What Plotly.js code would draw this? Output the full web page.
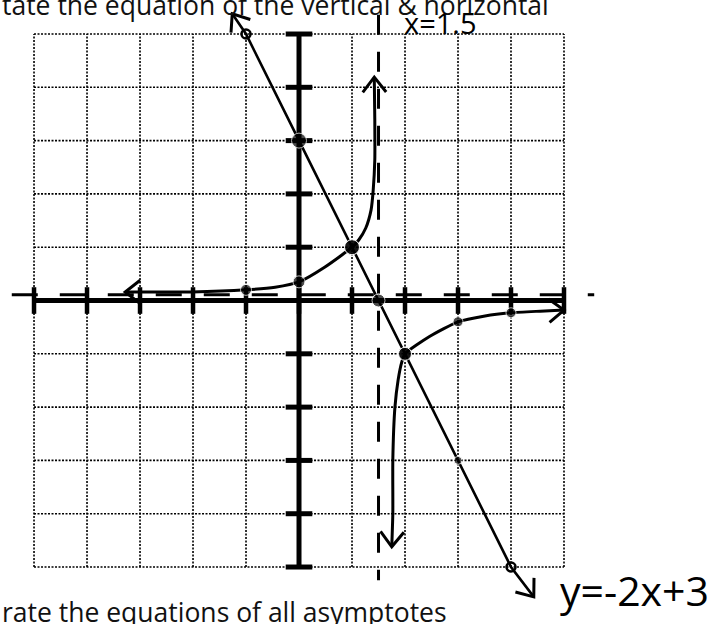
<!DOCTYPE html>
<html>
<head>
<meta charset="utf-8">
<script src="https://cdn.plot.ly/plotly-3.0.1.min.js"></script>
<style>html,body{margin:0;padding:0;background:#fff;overflow:hidden}</style>
</head>
<body>
<div id="chart" style="width:724px;height:624px"></div>
<script>
// Integer grid / tick positions on both axes
const gridTicks = [-5, -4, -3, -2, -1, 0, 1, 2, 3, 4, 5];

// Line y = -2x + 3 (open endpoints at x = -1 and x = 4, arrows beyond)
const lineX = [-1.26, -1, 0, 1, 1.5, 2, 3, 4, 4.43];
const lineY = [5.38, 5, 3, 1, 0, -1, -3, -5, -5.56];
const lineOpenX = [-1, 4];
const lineOpenY = [5, -5];
const lineDotX = [0, 1, 1.5, 2, 3];
const lineDotY = [3, 1, 0, -1, -3];

// Reciprocal graph: left branch (rising to the asymptote) and right branch
const leftX = [-3.28, -2.02, -1, -0.45, 0, 0.49, 1, 1.13, 1.26, 1.36, 1.40, 1.43, 1.43, 1.42];
const leftY = [0.16, 0.16, 0.2, 0.25, 0.35, 0.63, 1, 1.14, 1.36, 1.70, 2.07, 2.64, 3.39, 4.19];
const rightX = [1.75, 1.77, 1.77, 1.81, 1.87, 1.94, 2, 2.47, 3, 3.51, 4, 4.55, 5.0];
const rightY = [-4.62, -3.99, -2.99, -2.0, -1.49, -1.15, -1, -0.67, -0.4, -0.29, -0.23, -0.20, -0.18];
const curveDotX = [-1, 0, 1, 2, 3, 4];
const curveDotY = [0.2, 0.35, 1, -1, -0.4, -0.23];

// Asymptotes x = 1.5 and y = 0 (the hand-drawn dashes sit just above the axis)
const vAsymX = [1.5, 1.5];
const vAsymY = [5.36, -5.25];
const hAsymX = [-5.42, 5.57];
const hAsymY = [0.11, 0.11];

// Page geometry
const W = 724, H = 624;
const xRange = [-5.642, 8.019];
const yRange = [-6.069, 5.638];
const pxX = W / (xRange[1] - xRange[0]);
const pxY = H / (yRange[1] - yRange[0]);

// Arrowhead arms at a curve end, in data units, from the end point and its neighbour
function arrowArms(xs, ys, atEnd, len, ang) {
  const i = atEnd ? xs.length - 1 : 0;
  const j = atEnd ? xs.length - 2 : 1;
  const dx = (xs[i] - xs[j]) * pxX, dy = (ys[i] - ys[j]) * pxY;
  const n = Math.hypot(dx, dy);
  const bx = -dx / n, by = -dy / n;
  const arm = s => {
    const a = s * ang * Math.PI / 180;
    const rx = bx * Math.cos(a) - by * Math.sin(a);
    const ry = bx * Math.sin(a) + by * Math.cos(a);
    return [xs[i] + rx * len / pxX, ys[i] + ry * len / pxY];
  };
  const p1 = arm(1), p2 = arm(-1);
  return {x: [p1[0], xs[i], p2[0]], y: [p1[1], ys[i], p2[1]]};
}

// Dotted grid lines
const gx = [], gy = [];
const g0 = gridTicks[0], g1 = gridTicks[gridTicks.length - 1];
gridTicks.forEach(t => {
  gx.push(t, t, null, g0, g1, null);
  gy.push(g0, g1, null, t, t, null);
});

const black = '#000';
const traces = [];
traces.push({x: gx, y: gy, mode: 'lines', line: {color: black, width: 1.6, dash: '2px,1.5px'}, hoverinfo: 'skip'});
traces.push({x: hAsymX, y: hAsymY, mode: 'lines', line: {color: black, width: 3, dash: '26px,22px'}});
// Thick axes
traces.push({x: [g0, g1], y: [0, 0], mode: 'lines', line: {color: black, width: 5}});
traces.push({x: [0, 0], y: [g0, g1], mode: 'lines', line: {color: black, width: 5}});
// Tick marks
traces.push({x: gridTicks, y: gridTicks.map(() => 0), mode: 'markers',
  marker: {symbol: 'line-ns', size: 19, line: {color: black, width: 4.5}}});
traces.push({x: gridTicks.map(() => 0), y: gridTicks, mode: 'markers',
  marker: {symbol: 'line-ew', size: 19, line: {color: black, width: 5}}});
traces.push({x: vAsymX, y: vAsymY, mode: 'lines', line: {color: black, width: 3, dash: '20px,17px'}});
// Graphs
traces.push({x: lineX, y: lineY, mode: 'lines', line: {color: black, width: 2.6}});
traces.push({x: leftX, y: leftY, mode: 'lines', line: {color: black, width: 3, shape: 'spline', smoothing: 0.6}});
traces.push({x: rightX, y: rightY, mode: 'lines', line: {color: black, width: 3, shape: 'spline', smoothing: 0.6}});
// Arrowheads
[[lineX, lineY, false], [lineX, lineY, true], [leftX, leftY, false], [leftX, leftY, true],
 [rightX, rightY, false], [rightX, rightY, true]].forEach(([xs, ys, e]) => {
  const a = arrowArms(xs, ys, e, 19, 38);
  traces.push({x: a.x, y: a.y, mode: 'lines', line: {color: black, width: 3}});
});
// Points
traces.push({x: lineDotX, y: lineDotY, mode: 'markers', marker: {color: black, size: [15, 15, 13, 13, 8]}});
traces.push({x: curveDotX, y: curveDotY, mode: 'markers', marker: {color: black, size: [11, 12, 15, 13, 10, 10]}});
traces.push({x: lineOpenX, y: lineOpenY, mode: 'markers',
  marker: {symbol: 'circle-open', color: black, size: 9, line: {color: black, width: 2.5}}});

const px2paperX = p => p / W;
const px2paperY = p => 1 - p / H;

const layout = {
  width: W, height: H, autosize: false,
  margin: {l: 0, r: 0, t: 0, b: 0, pad: 0},
  paper_bgcolor: '#fff', plot_bgcolor: '#fff',
  showlegend: false,
  xaxis: {range: xRange, visible: false, fixedrange: true},
  yaxis: {range: yRange, visible: false, fixedrange: true},
  annotations: [
    {text: 'tate the equation of the vertical &amp; horizontal', xref: 'paper', yref: 'paper',
     x: px2paperX(0), y: px2paperY(5.5), xanchor: 'left', yanchor: 'middle', showarrow: false,
     font: {family: 'Open Sans', size: 26.5, color: '#111'}},
    {text: 'rate the equations of all asymptotes', xref: 'paper', yref: 'paper',
     x: px2paperX(0), y: px2paperY(612), xanchor: 'left', yanchor: 'middle', showarrow: false,
     font: {family: 'Open Sans', size: 26.5, color: '#111'}},
    {text: 'x=1.5', xref: 'paper', yref: 'paper',
     x: px2paperX(440), y: px2paperY(22.5), xanchor: 'center', yanchor: 'middle', showarrow: false,
     font: {family: 'Open Sans', size: 29, color: black}},
    {text: 'y=-2x+3', xref: 'paper', yref: 'paper',
     x: px2paperX(634), y: px2paperY(590), xanchor: 'center', yanchor: 'middle', showarrow: false,
     font: {family: 'Open Sans', size: 41, color: black}}
  ]
};

Plotly.newPlot('chart', traces, layout, {staticPlot: true, displayModeBar: false});
</script>
</body>
</html>
